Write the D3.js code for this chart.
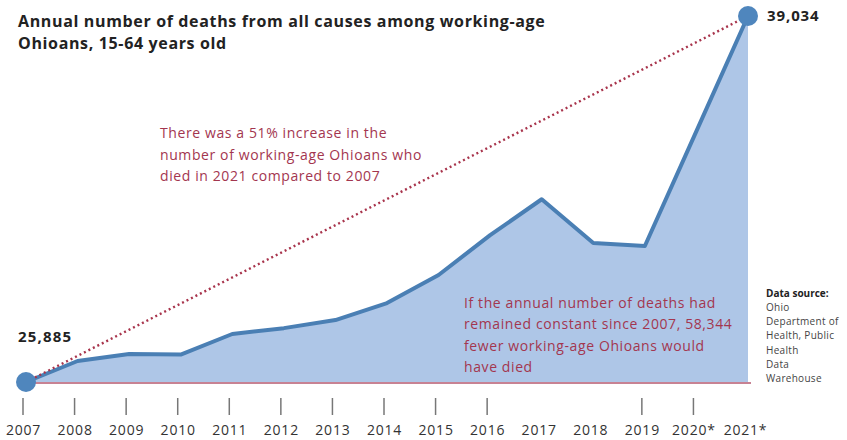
<!DOCTYPE html>
<html>
<head>
<meta charset="utf-8">
<script src="https://cdn.jsdelivr.net/npm/d3@7"></script>
<style>
  html, body { margin: 0; padding: 0; background: #fff; }
  svg { display: block; }
  text { font-family: "Open Sans", "DejaVu Sans", sans-serif; }
</style>
</head>
<body>
<svg id="chart" width="847" height="440"></svg>
<script>
// Annual deaths, all causes, Ohio residents aged 15-64
const years = [2007, 2008, 2009, 2010, 2011, 2012, 2013, 2014, 2015, 2016, 2017, 2018, 2019, 2020, 2021];
const deaths = [25885, 26640, 26890, 26870, 27610, 27820, 28110, 28720, 29730, 31160, 32450, 30880, 30770, 34900, 39034];
const yearLabels = ["2007", "2008", "2009", "2010", "2011", "2012", "2013", "2014", "2015", "2016", "2017", "2018", "2019", "2020*", "2021*"];
const tickYears = [2007, 2008, 2009, 2010, 2011, 2012, 2013, 2014, 2015, 2016, 2019, 2020];

const titleLines = ["Annual number of deaths from all causes among working-age", "Ohioans, 15-64 years old"];
const noteIncrease = ["There was a 51% increase in the", "number of working-age Ohioans who", "died in 2021 compared to 2007"];
const noteExcess = ["If the annual number of deaths had", "remained constant since 2007, 58,344", "fewer working-age Ohioans would", "have died"];
const sourceLines = ["Ohio", "Department of", "Health, Public", "Health", "Data", "Warehouse"];

const svg = d3.select("#chart");
const data = years.map((y, i) => ({ year: y, value: deaths[i] }));
const first = data[0], last = data[data.length - 1];

const x = d3.scalePoint().domain(years).range([26, 748]);
const y = d3.scaleLinear().domain([first.value, last.value]).range([382, 16]);

// filled area above the 2007 level
const area = d3.area()
  .x(d => x(d.year))
  .y0(y(first.value))
  .y1(d => y(d.value));

svg.append("path")
  .datum(data)
  .attr("d", area)
  .attr("fill", "#aec6e7");

// constant-level reference line
svg.append("line")
  .attr("x1", x(first.year)).attr("x2", x(last.year) + 3)
  .attr("y1", y(first.value) + 1).attr("y2", y(first.value) + 1)
  .attr("stroke", "#b5586f").attr("stroke-width", 1.6);

// the data line
const line = d3.line().x(d => x(d.year)).y(d => y(d.value));
svg.append("path")
  .datum(data)
  .attr("d", line)
  .attr("fill", "none")
  .attr("stroke", "#4a7fb4")
  .attr("stroke-width", 4)
  .attr("stroke-linejoin", "round");

// dotted line between the first and last year
svg.append("line")
  .attr("x1", x(first.year)).attr("y1", y(first.value))
  .attr("x2", x(last.year)).attr("y2", y(last.value))
  .attr("stroke", "#a8344c")
  .attr("stroke-width", 2.4)
  .attr("stroke-dasharray", "2,3");

// endpoint markers
svg.selectAll("circle.end")
  .data([first, last])
  .join("circle")
  .attr("class", "end")
  .attr("cx", d => x(d.year))
  .attr("cy", d => y(d.value))
  .attr("r", 10)
  .attr("fill", "#4f86bd");

// endpoint value labels
const fmt = d3.format(",");
svg.append("text")
  .attr("x", 18).attr("y", y(first.value) - 40)
  .attr("font-size", 15).attr("font-weight", 700).attr("fill", "#222")
  .attr("letter-spacing", 1.2)
  .text(fmt(first.value));
svg.append("text")
  .attr("x", 767).attr("y", y(last.value) + 5)
  .attr("font-size", 15).attr("font-weight", 700).attr("fill", "#222")
  .attr("letter-spacing", 0.9)
  .text(fmt(last.value));

// x axis: labels for every year, ticks for some
const axis = d3.axisBottom(x)
  .tickSize(0)
  .tickFormat((d, i) => yearLabels[i]);
const gx = svg.append("g")
  .attr("transform", "translate(-3,420)")
  .call(axis);
gx.select(".domain").remove();
gx.selectAll("text")
  .attr("font-size", 14)
  .attr("letter-spacing", 0.8)
  .attr("fill", "#333")
  .attr("dy", "0.85em");

svg.append("g")
  .selectAll("line")
  .data(tickYears)
  .join("line")
  .attr("x1", d => x(d) - 3).attr("x2", d => x(d) - 3)
  .attr("y1", 398).attr("y2", 415)
  .attr("stroke", "#777").attr("stroke-width", 1.5);

// title
svg.append("g")
  .selectAll("text")
  .data(titleLines)
  .join("text")
  .attr("x", 18)
  .attr("y", (d, i) => 27 + i * 22)
  .attr("font-size", 16)
  .attr("letter-spacing", 0.65)
  .attr("font-weight", 700)
  .attr("fill", "#222")
  .text(d => d);

// annotations
function note(lines, x0, y0, dy) {
  svg.append("g")
    .selectAll("text")
    .data(lines)
    .join("text")
    .attr("x", x0)
    .attr("y", (d, i) => y0 + i * dy)
    .attr("font-size", 14)
    .attr("letter-spacing", 0.6)
    .attr("fill", "#a3364f")
    .text(d => d);
}
note(noteIncrease, 160, 138, 21.5);
note(noteExcess, 464, 308, 21.3);

// data source
svg.append("text")
  .attr("x", 766).attr("y", 297)
  .attr("font-size", 10).attr("font-weight", 700).attr("fill", "#222")
  .text("Data source:");
svg.append("g")
  .selectAll("text")
  .data(sourceLines)
  .join("text")
  .attr("x", 766)
  .attr("y", (d, i) => 311 + i * 14.2)
  .attr("font-size", 10)
  .attr("letter-spacing", 0.3)
  .attr("fill", "#444")
  .text(d => d);
</script>
</body>
</html>
